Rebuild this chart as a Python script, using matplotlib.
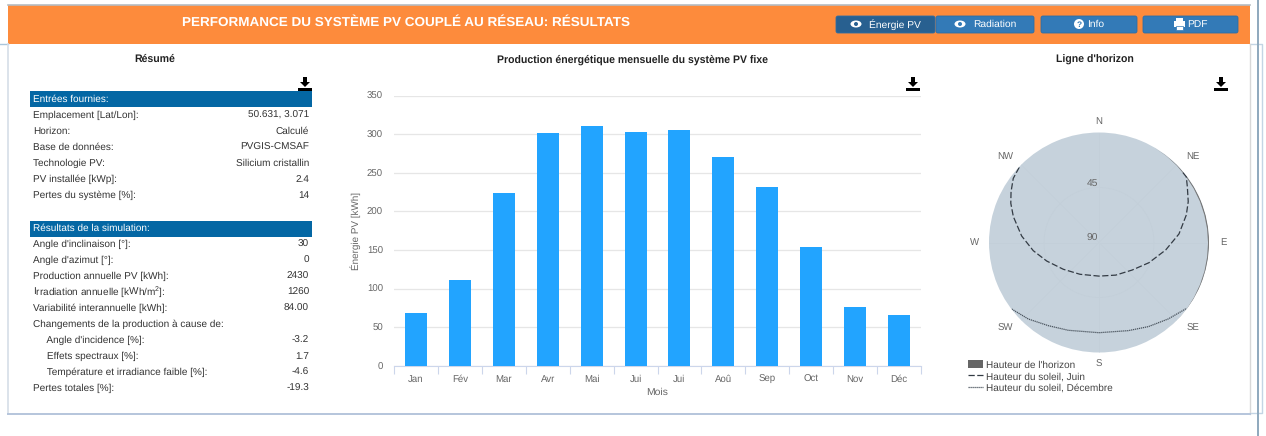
import numpy as np
import matplotlib
matplotlib.use("Agg")
import matplotlib.pyplot as plt
from matplotlib.lines import Line2D
from matplotlib.patches import Circle, Ellipse, FancyBboxPatch, Patch, Polygon, Rectangle

plt.rcParams["font.family"] = ["Liberation Sans", "DejaVu Sans"]
plt.rcParams["mathtext.default"] = "regular"
plt.rcParams["text.hinting"] = "no_hinting"

W, H = 1266, 436

months = ["Jan", "Fév", "Mar", "Avr", "Mai", "Jui", "Jui", "Aoû", "Sep", "Oct", "Nov", "Déc"]
energy = [69, 111, 224, 301, 310, 303, 306, 270, 231, 154, 76, 66]

inputs_title = "Entrées fournies:"
inputs_labels = ["Emplacement [Lat/Lon]:", "Horizon:", "Base de données:", "Technologie PV:",
                 "PV installée [kWp]:", "Pertes du système [%]:"]
inputs_values = ["50.631, 3.071", "Calculé", "PVGIS-CMSAF", "Silicium cristallin", "2.4", "14"]

results_title = "Résultats de la simulation:"
results_labels = ["Angle d'inclinaison [°]:", "Angle d'azimut [°]:", "Production annuelle PV [kWh]:",
                  "Irradiation annuelle [kWh/m$^2$]:", "Variabilité interannuelle [kWh]:",
                  "Changements de la production à cause de:", "     Angle d'incidence [%]:",
                  "     Effets spectraux [%]:", "     Température et irradiance faible [%]:",
                  "Pertes totales [%]:"]
results_values = ["30", "0", "2430", "1260", "84.00", "", "-3.2", "1.7", "-4.6", "-19.3"]

# azimuth from north (deg), altitude (deg)
june_az = [313.3, 306.8, 300, 294, 286.8, 274.8, 262.9, 250.5, 233.1, 210.9, 180,
           152.8, 129.6, 112, 96.4, 83.9, 72.5, 65.4, 57.7, 53, 49.6]
june_alt = [0.3, 2.4, 6.9, 11, 16.8, 26.5, 35.8, 44.6, 53.5, 59.7, 62.5,
            60, 54.7, 45.9, 35.1, 24.2, 15.1, 9.7, 4.5, 0.6, 0.6]
dec_az = [232.7, 222.7, 211.4, 199.3, 180, 161.6, 149.6, 137.8, 126.9]
dec_alt = [0.2, 4.8, 10.3, 13.9, 16.2, 14, 10.2, 5.6, 0.3]
# one value every 7.5 deg of azimuth, from north round to north
horizon_alt = [0, 0, 0, 0, 0, 0.2, 0.5, 0.8, 1.0, 1.1, 1.2, 1.2, 1.2, 1.2, 1.1, 1.0, 0.8, 0.4, 0.2, 0,
               0, 0, 0, 0, 0, 0, 0, 0, 0, 0, 0, 0, 0, 0, 0, 0, 0, 0, 0, 0,
               0, 0, 0, 0, 0, 0, 0, 0, 0]
compass = ["N", "NE", "E", "SE", "S", "SW", "W", "NW"]
compass_az = [0, 45, 90, 135, 180, 225, 270, 315]

ORANGE = "#fd8b3c"
BLUE_HEAD = "#0467a4"
BTN = "#337ab7"
BTN_DARK = "#286090"
GREY = "#666666"

fig = plt.figure(figsize=(W / 100, H / 100), dpi=100, facecolor="white")

# page furniture, in pixels from the top left
page = fig.add_axes([0, 0, 1, 1], zorder=0)
page.set_xlim(0, W)
page.set_ylim(H, 0)
page.axis("off")

page.add_patch(Rectangle((8, 5), 1242, 39, fc=ORANGE, ec="none"))
page.plot([8, 1250], [5.5, 5.5], color="#b5bcc2", lw=1.2)
page.plot([0, 8], [44, 44], color="#a9c6dc", lw=1)
page.plot([1250, 1262, 1262, 1250], [44, 44, 413, 413], color="#c3d5e4", lw=1)
page.plot([8, 8], [44, 414], color="#d5dee8", lw=1.2)
page.plot([1250, 1250], [44, 414], color="#d8d8d8", lw=1)
page.plot([8, 1250], [414, 414], color="#b5c5dc", lw=1.4)
page.plot([1258, 1258], [0, H], color="#8ea8bd", lw=1.4)

page.text(405.5, 22.5, "PERFORMANCE DU SYSTÈME PV COUPLÉ AU RÉSEAU: RÉSULTATS", color="white",
          fontsize=9.7, fontweight="bold", ha="center", va="center")


def button(x0, x1, label, text_x, color=BTN):
    page.add_patch(FancyBboxPatch((x0 + 1, 16), x1 - x0 - 2, 17, boxstyle="round,pad=0,rounding_size=2",
                                  fc=color, ec="#2e6da4", lw=0.6))
    page.text(text_x, 24.5, label, color="white", fontsize=7.4, ha="center", va="center")


def eye(x, y, color):
    page.add_patch(Ellipse((x, y), 11, 7, fc="white", ec="none"))
    page.add_patch(Circle((x, y), 2, fc=color, ec="none"))


def download(x, y):
    # y is the top of the arrow
    page.add_patch(Rectangle((x - 2, y), 4, 5, fc="black", ec="none"))
    page.add_patch(Polygon([(x - 5, y + 5), (x + 5, y + 5), (x, y + 10)], fc="black", ec="none"))
    page.add_patch(Rectangle((x - 7, y + 11), 14, 3, fc="black", ec="none"))


button(935, 1035, "Radiation", 994.5)
button(835, 936, "Énergie PV", 894.5, BTN_DARK)
button(1040, 1138, "Info", 1095.5)
button(1142, 1239, "PDF", 1197)
eye(856, 24, BTN_DARK)
eye(960, 24, BTN)
page.add_patch(Circle((1079, 24), 5, fc="white", ec="none"))
page.text(1079, 24.5, "?", color=BTN, fontsize=6, fontweight="bold", ha="center", va="center")
page.add_patch(Rectangle((1174, 21), 11, 6, fc="white", ec="none"))
page.add_patch(Rectangle((1176, 18), 7, 3, fc="white", ec="none"))
page.add_patch(Rectangle((1176, 26), 7, 4, fc="white", ec=BTN, lw=0.5))

for x, title in [(155, "Résumé"), (632.5, "Production énergétique mensuelle du système PV fixe"),
                 (1095, "Ligne d'horizon")]:
    page.text(x, 59.5, title, color="#222222", fontsize=7.6, fontweight="bold", ha="center", va="center")
for x in [305, 913, 1221]:
    download(x, 77)


# summary table
def table(top, title, labels, values):
    page.add_patch(Rectangle((30, top - 7.5), 282, 16, fc=BLUE_HEAD, ec="none"))
    page.text(33, top + 0.5, title, color="white", fontsize=7.2, va="center")
    for i, (label, value) in enumerate(zip(labels, values)):
        y = top + 16 * (i + 1)
        page.text(33, y, label, color="#333333", fontsize=7.2, va="center")
        page.text(309, y, value, color="#333333", fontsize=7.2, va="center", ha="right")


table(99, inputs_title, inputs_labels, inputs_values)
table(228, results_title, results_labels, results_values)

# monthly production bars
ax = fig.add_axes([394 / W, 1 - 366 / H, 527 / W, 270.5 / H], zorder=1)
ax.patch.set_alpha(0)
ax.bar(np.arange(12), energy, width=0.5, color="#22a4ff", zorder=3)
ax.set_xlim(-0.5, 11.5)
ax.set_ylim(0, 350)
ax.set_yticks(range(0, 351, 50))
ax.set_xticks(np.arange(12))
ax.set_xticklabels(months)
ax.set_xticks(np.arange(-0.5, 12, 1), minor=True)
ax.tick_params(axis="x", which="major", length=0, labelsize=6.9, labelcolor=GREY, pad=6)
ax.tick_params(axis="x", which="minor", length=5.5, width=0.8, color="#ccd6eb", direction="out")
ax.tick_params(axis="y", length=0, labelsize=6.9, labelcolor=GREY, pad=7.9)
ax.grid(axis="y", color="#e6e6e6", lw=0.9, zorder=0)
for side in ["top", "left", "right"]:
    ax.spines[side].set_visible(False)
ax.spines["bottom"].set_color("#ccd6eb")
ax.set_xlabel("Mois", color=GREY, fontsize=7.5, labelpad=3)
ax.set_ylabel("Énergie PV [kWh]", color=GREY, fontsize=7.1, labelpad=4.5)

# horizon plot
pol = fig.add_axes([989 / W, 1 - 352.5 / H, 220 / W, 220 / H], projection="polar", zorder=1)
pol.set_theta_zero_location("N")
pol.set_theta_direction(-1)
pol.set_facecolor("#c6d2dc")
pol.set_ylim(0, 90)
horizon_theta = np.radians(np.arange(len(horizon_alt)) * 7.5)
pol.fill_between(horizon_theta, 90 - np.array(horizon_alt), 90, color="#777777", lw=0, zorder=2)
pol.plot(np.radians(june_az), 90 - np.array(june_alt), color="#333b44", lw=0.9, ls=(0, (5, 2)), zorder=3)
pol.plot(np.radians(dec_az), 90 - np.array(dec_alt), color="#4a545e", lw=0.9, ls=(0, (1, 0.6)), zorder=3)
pol.set_xticks(np.radians(compass_az))
pol.set_xticklabels([])
pol.set_yticks([45])
pol.set_yticklabels([])
pol.grid(color="#c3cfd9", lw=0.5)
pol.spines["polar"].set_visible(False)
label_az = [0, 47.5, 90, 132.5, 180, 227.5, 270, 312.5]
for az, label, dist in zip(label_az, compass, [99, 104, 102, 104, 100, 104, 102, 104]):
    pol.text(np.radians(az), dist, label, color=GREY, fontsize=6.9, ha="center", va="center", clip_on=False)
for r, label, dy in [(0, "90", 4.5), (45, "45", 4)]:
    pol.annotate(label, (0, r), xytext=(-7, dy), textcoords="offset pixels", color=GREY, fontsize=7.4,
                 ha="center", va="center")

handles = [Patch(fc=GREY, ec="none"),
           Line2D([0], [0], color="#333b44", lw=0.9, ls=(0, (5, 2))),
           Line2D([0], [0], color="#4a545e", lw=0.9, ls=(0, (1, 0.6)))]
fig.legend(handles, ["Hauteur de l'horizon", "Hauteur du soleil, Juin", "Hauteur du soleil, Décembre"],
           loc="upper left", bbox_to_anchor=(968 / W, 1 - 360 / H), frameon=False, fontsize=7.2,
           labelcolor="#444444", handlelength=1.5, handletextpad=0.3, labelspacing=0.2,
           borderpad=0, borderaxespad=0, handleheight=0.9)

fig.savefig("out.png", dpi=100)
